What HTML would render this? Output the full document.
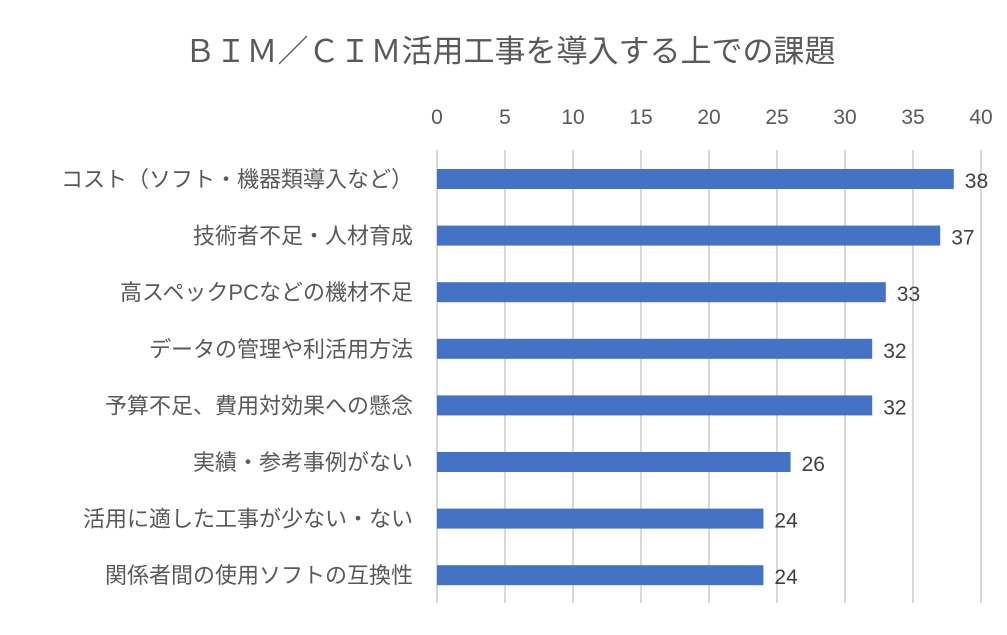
<!DOCTYPE html>
<html><head><meta charset="utf-8"><style>
body{margin:0;background:#fff}
svg text{font-family:"Liberation Sans","Noto Sans CJK JP",sans-serif}
</style></head><body>
<svg width="1007" height="630">
<text x="510" y="62" text-anchor="middle" font-size="31" fill="#595959">ＢＩＭ／ＣＩＭ活用工事を導入する上での課題</text>
<g id="grid"></g><g id="bars"></g>
</svg>
<script>
const categories=["コスト（ソフト・機器類導入など）","技術者不足・人材育成","高スペックPCなどの機材不足","データの管理や利活用方法","予算不足、費用対効果への懸念","実績・参考事例がない","活用に適した工事が少ない・ない","関係者間の使用ソフトの互換性"];
const values=[38,37,33,32,32,26,24,24];
const ticks=[0,5,10,15,20,25,30,35,40];
const NS="http://www.w3.org/2000/svg";
const x0=437,pxu=13.6,top0=169,step=56.6,bh=20;
const xs=v=>x0+v*pxu, ys=i=>top0+i*step;
function mk(t,a,p){const e=document.createElementNS(NS,t);for(const k in a)e.setAttribute(k,a[k]);p.appendChild(e);return e;}
const g=document.getElementById('grid'),b=document.getElementById('bars');
ticks.forEach(t=>{
 const l=mk('line',{x1:xs(t),x2:xs(t),y1:150,y2:603,stroke:'#d9d9d9','stroke-width':2},g);
 
 
 const tx=mk('text',{x:xs(t),y:124,'text-anchor':'middle','font-size':21,fill:'#595959'},g);
 tx.textContent=t;
 
 
});
categories.forEach((c,i)=>{
 const r=mk('rect',{x:xs(0),y:ys(i),width:xs(values[i])-xs(0),height:bh,fill:'#4472c4'},b);
 
 
 const lab=mk('text',{x:413,y:ys(i)+bh/2+8,'text-anchor':'end','font-size':22,fill:'#595959'},b);
 lab.textContent=c;
 
 
 const v=mk('text',{x:xs(values[i])+11,y:ys(i)+bh/2+9,'font-size':21,fill:'#404040'},b);
 v.textContent=values[i];
 
 
});
</script>
</body></html>
